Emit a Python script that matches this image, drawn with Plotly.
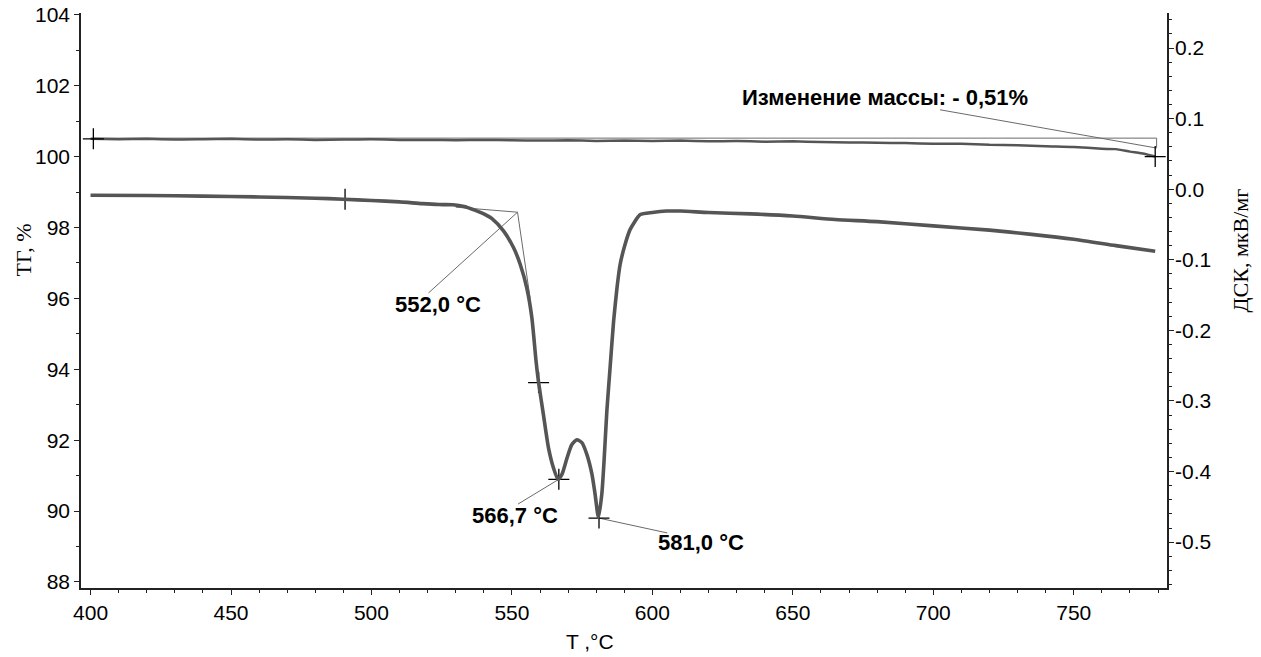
import plotly.graph_objects as go

# ---- Data ----
# DSC curve (right axis, мкВ/мг)
dsc_T = [400, 420, 440, 460, 480, 490, 500, 510, 518, 524, 529, 533, 537, 540, 543, 547,
         550.6, 553, 555.3, 557.1, 558.6, 559.5, 561.2, 563.0, 564.8, 566.4, 567.8, 569.6,
         571.3, 573.1, 574.9, 576.7, 578.5, 579.6, 580.8, 582.0, 582.8, 583.8, 585.0, 586.2,
         587.4, 588.5, 590.3, 592.1, 595.7, 600, 605, 610, 620, 635, 650, 665, 680, 700,
         720, 735, 750, 765, 779]
dsc_v = [-0.0085, -0.0090, -0.0098, -0.0110, -0.0128, -0.0142, -0.0160, -0.0180, -0.0205,
         -0.0218, -0.0220, -0.0245, -0.0300, -0.0350, -0.0420, -0.0590,
         -0.083, -0.107, -0.140, -0.182, -0.244, -0.274, -0.319, -0.366, -0.395, -0.411, -0.404,
         -0.381, -0.362, -0.355, -0.359, -0.376, -0.404, -0.432, -0.465, -0.432, -0.385, -0.314,
         -0.250, -0.187, -0.140, -0.107, -0.078, -0.057, -0.036, -0.033, -0.031, -0.031, -0.033,
         -0.035, -0.038, -0.043, -0.046, -0.052, -0.058, -0.064, -0.071, -0.080, -0.088]

# TG curve (left axis, %)
tg_T = [400, 410, 420, 430, 440, 450, 460, 470, 480, 490, 500, 510, 520, 530, 540, 550,
        560, 570, 580, 590, 600, 610, 620, 630, 640, 650, 660, 670, 680, 690, 700, 710,
        720, 730, 740, 750, 760, 765, 770, 775, 779]
tg_v = [100.50, 100.49, 100.50, 100.48, 100.49, 100.50, 100.48, 100.49, 100.47, 100.48,
        100.49, 100.47, 100.47, 100.46, 100.47, 100.46, 100.45, 100.46, 100.44, 100.45,
        100.44, 100.45, 100.43, 100.44, 100.42, 100.43, 100.41, 100.40, 100.39, 100.38,
        100.36, 100.36, 100.33, 100.32, 100.29, 100.27, 100.22, 100.21, 100.14, 100.08, 100.00]

# Marked points
tg_mark_T = [401, 779]
tg_mark_v = [100.50, 100.00]
dsc_mark_T = [490.6, 559.5, 566.7, 581.0]
dsc_mark_v = [-0.0142, -0.274, -0.411, -0.466]

# Construction / leader lines
tg_box_T = [401, 779.5, 779.5]
tg_box_v = [100.52, 100.52, 100.25]
tg_lead_T = [702.4, 779.5]
tg_lead_v = [101.32, 100.24]
onset_base_T = [530, 552.0]
onset_base_v = [-0.0255, -0.0326]
onset_steep_T = [552.0, 556.5]
onset_steep_v = [-0.0326, -0.155]
onset_lead_T = [552.0, 520.3]
onset_lead_v = [-0.0326, -0.147]
p1_lead_T = [566.7, 552.2]
p1_lead_v = [-0.411, -0.446]
p2_lead_T = [581.0, 605.3]
p2_lead_v = [-0.466, -0.487]

# Labels
dsc_labels = ["552,0 °C", "566,7 °C", "581,0 °C"]
dsc_label_T = [523.8, 551.0, 617.3]
dsc_label_v = [-0.163, -0.462, -0.501]
tg_label = "Изменение массы: - 0,51%"
tg_label_T = 682.8
tg_label_v = 101.66

x_ticks = [400, 450, 500, 550, 600, 650, 700, 750]
y1_ticks = [88, 90, 92, 94, 96, 98, 100, 102, 104]
y2_ticks = [0.2, 0.1, 0.0, -0.1, -0.2, -0.3, -0.4, -0.5]
y2_ticktext = ["0.2", "0.1", "0.0", "-0.1", "-0.2", "-0.3", "-0.4", "-0.5"]
Y2_RANGE = [-0.565, 0.2496]

CURVE = "#555555"
THIN = "#6a6a6a"
SANS = "Liberation Sans, Arial, sans-serif"
SERIF = "Liberation Serif, Times New Roman, serif"

fig = go.Figure()

def thin(xs, ys, yaxis):
    fig.add_trace(go.Scatter(x=xs, y=ys, yaxis=yaxis, mode="lines",
                             line=dict(color=THIN, width=1), hoverinfo="skip",
                             showlegend=False))

# construction lines (below curves)
thin(tg_box_T, tg_box_v, "y")
thin(tg_lead_T, tg_lead_v, "y")
thin(onset_base_T, onset_base_v, "y2")
thin(onset_steep_T, onset_steep_v, "y2")
thin(onset_lead_T, onset_lead_v, "y2")
thin(p1_lead_T, p1_lead_v, "y2")
thin(p2_lead_T, p2_lead_v, "y2")

fig.add_trace(go.Scatter(x=tg_T, y=tg_v, yaxis="y", mode="lines", name="ТГ",
                         line=dict(color=CURVE, width=2.5, shape="spline", smoothing=0.5),
                         showlegend=False))
fig.add_trace(go.Scatter(x=dsc_T, y=dsc_v, yaxis="y3", mode="lines", name="ДСК",
                         line=dict(color=CURVE, width=3.6, shape="spline", smoothing=0.6),
                         showlegend=False))

fig.add_trace(go.Scatter(x=tg_mark_T, y=tg_mark_v, yaxis="y", mode="markers",
                         marker=dict(symbol="cross-thin", size=15,
                                     line=dict(color="black", width=1.3)),
                         showlegend=False))
fig.add_trace(go.Scatter(x=dsc_mark_T, y=dsc_mark_v, yaxis="y2", mode="markers",
                         marker=dict(symbol="cross-thin", size=15,
                                     line=dict(color="black", width=1.3)),
                         showlegend=False))

annotations = []
for txt, tx, tv in zip(dsc_labels, dsc_label_T, dsc_label_v):
    annotations.append(dict(x=tx, y=tv, xref="x", yref="y2", text=txt, showarrow=False,
                            font=dict(family=SANS, size=22, color="black", weight="bold")))
annotations.append(dict(x=tg_label_T, y=tg_label_v, xref="x", yref="y", text=tg_label,
                        showarrow=False,
                        font=dict(family=SANS, size=22, color="black", weight="bold")))

# axis titles
annotations.append(dict(x=-0.0534, y=0.587, xref="paper", yref="paper", text="ТГ, %",
                        textangle=-90, showarrow=False, xanchor="center", yanchor="middle",
                        font=dict(family=SERIF, size=22, color="black")))
annotations.append(dict(x=1.0672, y=0.587, xref="paper", yref="paper", text="ДСК, мкВ/мг",
                        textangle=-90, showarrow=False, xanchor="center", yanchor="middle",
                        font=dict(family=SERIF, size=22, color="black")))
annotations.append(dict(x=0.4687, y=-0.0939, xref="paper", yref="paper", text="T ,°C",
                        showarrow=False, xanchor="center", yanchor="middle",
                        font=dict(family=SANS, size=21, color="black")))

axis_common = dict(showgrid=False, zeroline=False, showline=True, linecolor="#222",
                   linewidth=1.5, ticks="outside", ticklen=5, tickwidth=1.2, tickcolor="#222",
                   automargin=False,
                   tickfont=dict(family=SANS, size=21, color="black"))

fig.update_layout(
    width=1261, height=657,
    margin=dict(l=81, r=94, t=13, b=69, autoexpand=False),
    paper_bgcolor="white", plot_bgcolor="white",
    xaxis=dict(range=[396.6, 783.2], tickvals=x_ticks,
               minor=dict(dtick=10, ticks="outside", ticklen=3, tickcolor="#222"),
               **axis_common),
    yaxis=dict(range=[87.83, 104.05], tickvals=y1_ticks, ticklabeloverflow="allow",
               minor=dict(dtick=1, ticks="outside", ticklen=3, tickcolor="#222"),
               **axis_common),
    # right axis: line + ticks
    yaxis2=dict(range=Y2_RANGE, tickvals=y2_ticks, showticklabels=False,
                overlaying="y", side="right", anchor="x",
                minor=dict(dtick=0.02, ticks="outside", ticklen=3, tickcolor="#222"),
                **axis_common),
    # right axis tick labels (same scale)
    yaxis3=dict(range=Y2_RANGE, tickvals=y2_ticks, ticktext=y2_ticktext,
                overlaying="y", side="right", anchor="free", position=1.0,
                showline=False, showgrid=False, zeroline=False, ticks="",
                ticklabelstandoff=7, automargin=False,
                tickfont=dict(family=SANS, size=21, color="black")),
    annotations=annotations,
)

# remove the default page margin so the figure sits at the window's top-left corner
fig.write_html("out.html", config={"displayModeBar": False},
               post_script="document.body.style.margin='0';")
